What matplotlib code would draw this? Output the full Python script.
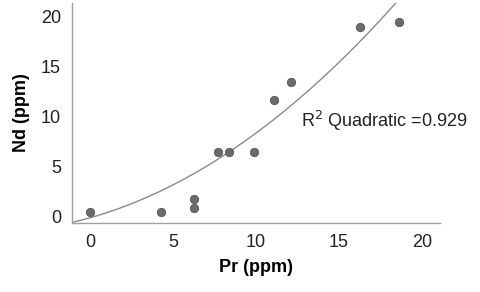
import numpy as np
import matplotlib.pyplot as plt

plt.rcParams['font.family'] = ['Liberation Sans', 'DejaVu Sans']

# data
pr = [0.0, 4.3, 6.3, 6.3, 7.7, 8.4, 9.9, 11.1, 12.1, 16.3, 18.6]
nd = [0.4, 0.4, 1.7, 0.85, 6.45, 6.45, 6.4, 11.7, 13.5, 19.0, 19.5]

# quadratic fit shown in the chart (c2, c1, c0)
fit_coef = [0.038, 0.47, -0.18]
r2_text = "R$^2$ Quadratic =0.929"

xs = np.linspace(-1.08, 21.1, 300)
ys = np.polyval(fit_coef, xs)

fig = plt.figure(figsize=(4.8, 2.92), dpi=100)
ax = fig.add_axes([72 / 480, 1 - 223 / 292, (440 - 72) / 480, (223 - 3) / 292])

ax.plot(xs, ys, color="#8a8a8a", lw=1.0, zorder=2)
ax.scatter(pr, nd, s=36, color="#6b6b6b", edgecolor="#555555", linewidth=0.6, zorder=3)

ax.set_xlim(-1.08, 21.1)
ax.set_ylim(-0.7, 21.4)
ax.set_xticks([0, 5, 10, 15, 20])
ax.set_yticks([0, 5, 10, 15, 20])

for s in ["top", "right"]:
    ax.spines[s].set_visible(False)
for s in ["left", "bottom"]:
    ax.spines[s].set_color("#a0a0a0")
    ax.spines[s].set_linewidth(1.0)

ax.tick_params(length=0, labelsize=13, colors="#222222", pad=8)

ax.set_xlabel("Pr (ppm)", fontsize=13, fontweight="bold", labelpad=6)
ax.set_ylabel("Nd (ppm)", fontsize=13, fontweight="bold", labelpad=8)

ax.text(12.75, 9.6, r2_text, fontsize=13, color="#222222", va="center", ha="left")

fig.savefig("out.png", dpi=100)
